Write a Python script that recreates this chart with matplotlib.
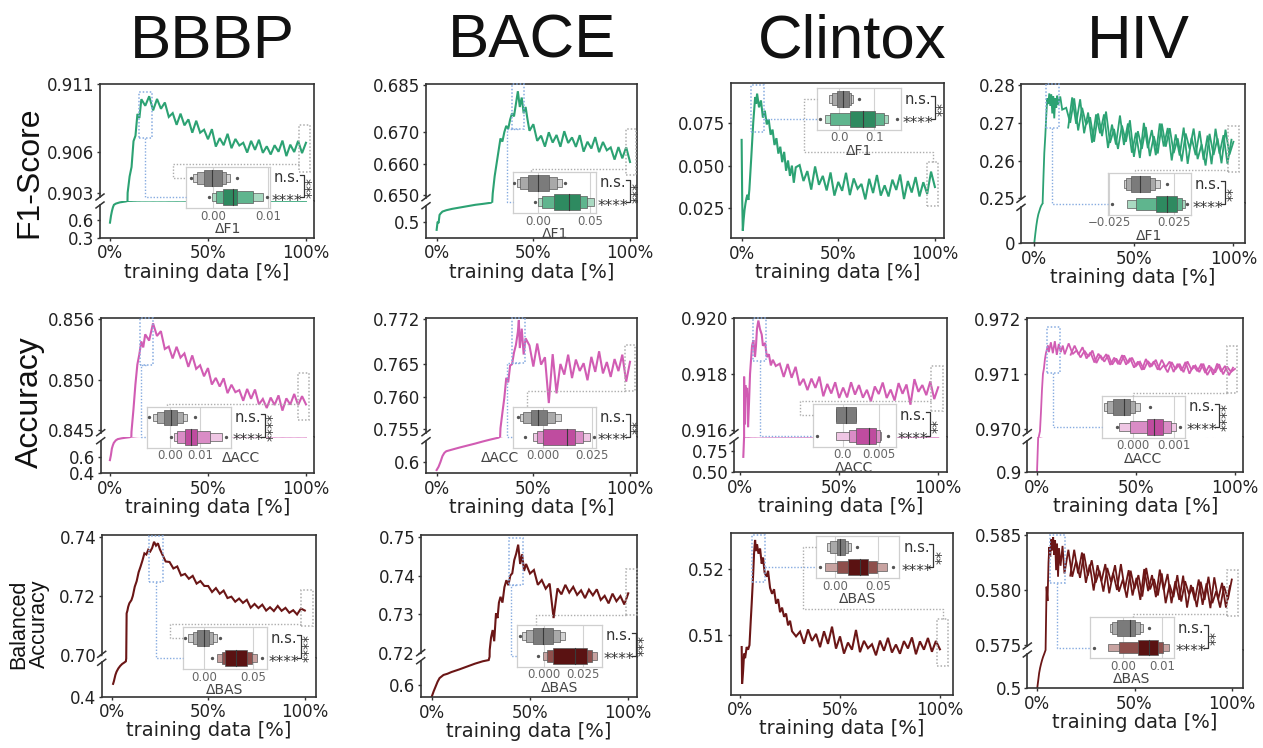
import matplotlib
matplotlib.use("Agg")
import matplotlib.pyplot as plt
from matplotlib.lines import Line2D
from matplotlib.patches import Rectangle

W, H = 1263, 748

# ---------------- values ----------------
datasets = ["BBBP", "BACE", "Clintox", "HIV"]
metrics = ["F1-Score", "Accuracy", "Balanced\nAccuracy"]
delta_names = ["\u0394F1", "\u0394ACC", "\u0394BAS"]
x_tick_labels = ["0%", "50%", "100%"]

# ---- F1 ----
bbbp_f1_x = [0, 0.5, 1, 1.5, 2, 3, 4, 5, 6, 7, 8, 9, 10, 11, 12, 13, 14, 15,
             16, 18, 20, 22, 24, 26, 28, 30, 32, 34, 36, 38, 40, 42, 44, 46, 48, 50, 52, 54,
             56, 58, 60, 62, 64, 66, 68, 70, 72, 74, 76, 78, 80, 82, 84, 86, 88, 90, 92, 94,
             96, 98, 100]
bbbp_f1_y = [0.55, 0.66, 0.74, 0.80, 0.84, 0.86, 0.87, 0.88, 0.885, 0.89, 0.895, 0.9030,
             0.9042, 0.9049, 0.9068, 0.9072, 0.9088, 0.9085,
             0.90988, 0.90940, 0.91010, 0.90906, 0.90990, 0.90918, 0.90964, 0.90858, 0.90886,
             0.90800, 0.90882, 0.90796, 0.90840, 0.90742, 0.90830, 0.90742, 0.90764, 0.90694,
             0.90768, 0.90640, 0.90702, 0.90650, 0.90734, 0.90628, 0.90696, 0.90648, 0.90668,
             0.90596, 0.90682, 0.90616, 0.90690, 0.90594, 0.90642, 0.90582, 0.90650, 0.90602,
             0.90684, 0.90570, 0.90654, 0.90600, 0.90682, 0.90592, 0.90668]

bace_f1_x = [0, 0.5, 1, 1.5, 2, 3, 5, 8, 12, 16, 20, 24, 28, 29, 30, 31, 32, 33, 34, 35,
             36, 37, 38, 39, 40, 41, 42, 43, 44, 45, 46, 47,
             48, 50, 52, 54, 56, 58, 60, 62, 64, 66, 68, 70, 72, 74, 76, 78, 80, 82, 84, 86,
             88, 90, 92, 94, 96, 98, 100]
bace_f1_y = [0.44, 0.50, 0.49, 0.55, 0.56, 0.575, 0.585, 0.595, 0.605, 0.615, 0.625, 0.632,
             0.640, 0.6505, 0.6560, 0.6600, 0.6640, 0.6680, 0.6670, 0.6700, 0.6720, 0.6710,
             0.6740, 0.6760, 0.6750, 0.6790, 0.6830, 0.6780, 0.6810, 0.6760, 0.6780, 0.6740,
             0.67044, 0.67252, 0.66724, 0.66888, 0.66540, 0.66996, 0.66668, 0.66910, 0.66536,
             0.67030, 0.66656, 0.66832, 0.66532, 0.66904, 0.66380, 0.66696, 0.66480, 0.66842,
             0.66364, 0.66688, 0.66424, 0.66514, 0.66128, 0.66526, 0.66168, 0.66520, 0.66052]

clintox_f1_x = [0, 0.3, 0.6, 1, 1.5, 2, 2.5, 3, 3.5, 4, 5, 6, 7, 7.5, 8, 9, 10, 11, 12, 13,
                14, 15, 16, 17, 18, 19, 20, 21, 22, 23, 24, 25, 26, 27, 28,
                30, 32, 34, 36, 38, 40, 42, 44, 46, 48, 50, 52, 54, 56, 58, 60, 62, 64, 66,
                68, 70, 72, 74, 76, 78, 80, 82, 84, 86, 88, 90, 92, 94, 96, 98, 100]
clintox_f1_y = [0.065, 0.030, 0.012, 0.018, 0.024, 0.028, 0.031, 0.033, 0.030, 0.036, 0.055,
                0.075, 0.090, 0.086, 0.092, 0.084, 0.088, 0.078, 0.082, 0.074, 0.077, 0.068,
                0.071, 0.062, 0.066, 0.057, 0.061, 0.052, 0.058, 0.047, 0.053, 0.044, 0.050,
                0.040, 0.049,
                0.0503, 0.0410, 0.0468, 0.0360, 0.0495, 0.0388, 0.0440, 0.0355, 0.0460, 0.0325,
                0.0405, 0.0353, 0.0458, 0.0328, 0.0425, 0.0365, 0.0393, 0.0303, 0.0423, 0.0340,
                0.0445, 0.0325, 0.0385, 0.0320, 0.0418, 0.0358, 0.0448, 0.0305, 0.0410, 0.0343,
                0.0433, 0.0320, 0.0403, 0.0335, 0.0465, 0.0375]

hiv_f1_x = [0, 0.5, 1, 1.5, 2, 2.5, 3, 3.5, 4, 4.2, 4.6, 5, 5.5, 6, 6.5, 7, 7.5, 8, 8.5, 9,
            9.5, 10, 10.5, 11, 11.5, 12, 13, 14,
            16, 18, 20, 22, 24, 26, 28, 30, 32, 34, 36, 38, 40, 42, 44, 46, 48, 50, 52, 54,
            56, 58, 60, 62, 64, 66, 68, 70, 72, 74, 76, 78, 80, 82, 84, 86, 88, 90, 92, 94,
            96, 98, 100]
hiv_f1_y = [0.005, 0.06, 0.11, 0.15, 0.18, 0.20, 0.22, 0.235, 0.245, 0.2495, 0.2560, 0.2620,
            0.2665, 0.2720, 0.2765, 0.2750, 0.2778, 0.2745, 0.2775, 0.2725, 0.2770, 0.2712,
            0.2765, 0.2740, 0.2772, 0.2748, 0.2770, 0.2735,
            0.2740, 0.2700, 0.2765, 0.2680, 0.2740, 0.2695, 0.2715, 0.2650, 0.2725, 0.2665,
            0.2730, 0.2647, 0.2684, 0.2631, 0.2693, 0.2650, 0.2707, 0.2610, 0.2678, 0.2631,
            0.2689, 0.2612, 0.2665, 0.2619, 0.2698, 0.2637, 0.2686, 0.2620, 0.2659, 0.2598,
            0.2672, 0.2631, 0.2685, 0.2604, 0.2643, 0.2587, 0.2671, 0.2615, 0.2659, 0.2593,
            0.2682, 0.2616, 0.2650]

# HIV runs are sampled twice as densely; these are the in-between readings
hiv_mid_x = [17, 19, 21, 23, 25, 27, 29, 31, 33, 35, 37, 39, 41, 43, 45, 47, 49, 51, 53, 55,
             57, 59, 61, 63, 65, 67, 69, 71, 73, 75, 77, 79, 81, 83, 85, 87, 89, 91, 93, 95,
             97, 99]
hiv_f1_mid_y = [0.26875, 0.27675, 0.26975, 0.27625, 0.26725, 0.27275, 0.26475, 0.27225, 0.26725,
                0.27225, 0.26335, 0.26955, 0.26425, 0.27195, 0.26415, 0.26985, 0.2621, 0.2674,
                0.2607, 0.27, 0.2633, 0.2681, 0.26145, 0.26985, 0.26375, 0.26865, 0.26005,
                0.26695, 0.26135, 0.26875, 0.25915, 0.26605, 0.26145, 0.26785, 0.26025, 0.26665,
                0.25905, 0.26845, 0.26185, 0.26675, 0.25915, 0.26555]

# ---- Accuracy ----
bbbp_acc_x = [0, 0.5, 1, 1.5, 2, 3, 4, 6, 8, 10, 11, 12, 13, 14, 15, 16, 17, 18,
              20, 22, 24, 26, 28, 30, 32, 34, 36, 38, 40, 42, 44, 46, 48, 50, 52, 54, 56, 58,
              60, 62, 64, 66, 68, 70, 72, 74, 76, 78, 80, 82, 84, 86, 88, 90, 92, 94, 96, 98,
              100]
bbbp_acc_y = [0.56, 0.62, 0.70, 0.74, 0.77, 0.80, 0.815, 0.825, 0.832, 0.838, 0.8448, 0.8470,
              0.8495, 0.8515, 0.8525, 0.8538, 0.8532, 0.8545,
              0.85388, 0.85560, 0.85434, 0.85482, 0.85304, 0.85328, 0.85210, 0.85326, 0.85218,
              0.85260, 0.85126, 0.85240, 0.85106, 0.85142, 0.85032, 0.85114, 0.84950, 0.85016,
              0.84930, 0.85012, 0.84864, 0.84948, 0.84874, 0.84894, 0.84788, 0.84906, 0.84808,
              0.84900, 0.84752, 0.84806, 0.84716, 0.84820, 0.84746, 0.84842, 0.84690, 0.84812,
              0.84750, 0.84856, 0.84746, 0.84834, 0.84752]

bace_acc_x = [0, 1, 2, 3, 4, 5, 8, 12, 16, 20, 24, 28, 32, 33, 34, 35, 36, 37, 38, 39, 40,
              41, 42, 42.5, 43, 44, 45, 46,
              48, 50, 52, 54, 56, 58, 60, 62, 64, 66, 68, 70, 72, 74, 76, 78, 80, 82, 84, 86,
              88, 90, 92, 94, 96, 98, 100]
bace_acc_y = [0.55, 0.57, 0.60, 0.635, 0.655, 0.665, 0.675, 0.688, 0.700, 0.712, 0.725, 0.737,
              0.748, 0.7551, 0.7575, 0.7598, 0.7629, 0.7622, 0.7648, 0.7650, 0.7668, 0.7680,
              0.7700, 0.7718, 0.7675, 0.7705, 0.7665, 0.7690,
              0.7679, 0.76464, 0.7682, 0.76494, 0.76608, 0.7590, 0.76656, 0.7605, 0.76504,
              0.7634, 0.76648, 0.76286, 0.76572, 0.76396, 0.76516, 0.76252, 0.76614, 0.76382,
              0.767, 0.76358, 0.76534, 0.76304, 0.7658, 0.76394, 0.76648, 0.7623, 0.76538]

clintox_acc_x = [1.6, 1.8, 2.0, 2.3, 2.6, 3.0, 3.5, 4.0, 4.5, 5.0, 5.5, 6.0, 6.7, 7.5, 8.0,
                 8.5, 9.2, 10.0, 10.9, 11.5, 12.6, 13.5, 14.5, 15.5, 16.5,
                 18, 20, 22, 24, 26, 28, 30, 32, 34, 36, 38, 40, 42, 44, 46, 48, 50, 52, 54,
                 56, 58, 60, 62, 64, 66, 68, 70, 72, 74, 76, 78, 80, 82, 84, 86, 88, 90, 92,
                 94, 96, 98, 100]
clintox_acc_y = [0.68, 0.80, 0.9179, 0.9162, 0.9176, 0.9172, 0.9175, 0.9161, 0.9170, 0.9180,
                 0.9185, 0.9190, 0.9192, 0.9186, 0.9190, 0.9196, 0.9199, 0.9196, 0.9194, 0.9190,
                 0.9191, 0.9186, 0.9187, 0.9183, 0.9185,
                 0.91828, 0.91836, 0.91789, 0.91835, 0.91786, 0.91825, 0.91759, 0.91782,
                 0.91742, 0.91783, 0.9175, 0.9179, 0.9172, 0.91764, 0.9173, 0.9177, 0.91714,
                 0.91751, 0.91716, 0.9177, 0.91726, 0.9176, 0.91715, 0.91743, 0.91702, 0.91755,
                 0.91728, 0.91769, 0.91714, 0.91744, 0.91705, 0.91767, 0.91729, 0.91762, 0.9169,
                 0.91781, 0.91736, 0.9176, 0.91724, 0.91773, 0.9171, 0.91752]

hiv_acc_x = [0, 0.6, 1.5, 2, 2.5, 3, 3.5, 4, 4.5, 5, 5.5, 6, 7, 8, 9, 10, 11, 12, 13, 14,
             16, 18, 20, 22, 24, 26, 28, 30, 32, 34, 36, 38, 40, 42, 44, 46, 48, 50, 52, 54,
             56, 58, 60, 62, 64, 66, 68, 70, 72, 74, 76, 78, 80, 82, 84, 86, 88, 90, 92, 94,
             96, 98, 100]
hiv_acc_y = [0.90, 0.9698, 0.96995, 0.9703, 0.9707, 0.9710, 0.9711, 0.97127, 0.97138, 0.97145,
             0.97152, 0.97140, 0.97158, 0.97138, 0.97160, 0.97135, 0.97155, 0.97140, 0.97152,
             0.97136,
             0.97156, 0.971364, 0.971432, 0.971302, 0.971425, 0.971317, 0.971429, 0.9712,
             0.971344, 0.971225, 0.971347, 0.971172, 0.971283, 0.971174, 0.97134, 0.971198,
             0.971298, 0.971145, 0.971223, 0.971081, 0.971236, 0.971148, 0.971259, 0.971073,
             0.971161, 0.97103, 0.971217, 0.971086, 0.971185, 0.971032, 0.97123, 0.971077,
             0.971154, 0.971034, 0.971188, 0.97098, 0.971112, 0.971025, 0.971179, 0.970993,
             0.971136, 0.971038, 0.971093]
hiv_acc_mid_y = [0.971352, 0.971519, 0.971356, 0.97149, 0.971283, 0.971395, 0.97121, 0.971371,
                 0.971257, 0.971363, 0.971166, 0.971299, 0.971179, 0.971345, 0.97117, 0.971292,
                 0.971117, 0.971228, 0.971075, 0.971274, 0.971126, 0.971231, 0.971078, 0.97126,
                 0.971123, 0.971228, 0.971036, 0.971185, 0.971059, 0.971219, 0.971005, 0.971154,
                 0.97105, 0.971188, 0.971018, 0.971156, 0.970986, 0.97119, 0.971042, 0.971147,
                 0.970977, 0.971115]

# ---- Balanced accuracy ----
bbbp_bas_x = [0.8, 1.2, 2, 2.6, 3.5, 4.5, 5.5, 6.5, 7.4, 7.6, 7.8, 8.2, 8.6, 9.2, 10.3, 11,
              12, 13, 14, 15, 16, 17, 18, 19, 20, 21, 22, 23, 24, 25, 26,
              28, 30, 32, 34, 36, 38, 40, 42, 44, 46, 48, 50, 52, 54, 56, 58, 60, 62, 64, 66,
              68, 70, 72, 74, 76, 78, 80, 82, 84, 86, 88, 90, 92, 94, 96, 98, 100]
bbbp_bas_y = [0.50, 0.52, 0.57, 0.595, 0.62, 0.64, 0.655, 0.665, 0.675, 0.700, 0.7141, 0.7150,
              0.7163, 0.7175, 0.7186, 0.7200, 0.7231, 0.7250, 0.7280, 0.7299, 0.7320, 0.7344,
              0.7340, 0.7356, 0.7350, 0.7362, 0.7383, 0.7370, 0.7378, 0.7358, 0.7344,
              0.73164, 0.73148, 0.72928, 0.72996, 0.7269, 0.72744, 0.7258, 0.72678, 0.72416,
              0.72502, 0.72336, 0.72336, 0.72132, 0.72264, 0.72072, 0.7218, 0.71928, 0.71974,
              0.71804, 0.7191, 0.71764, 0.71868, 0.716, 0.71728, 0.7159, 0.71704, 0.71504,
              0.71616, 0.71488, 0.7166, 0.71496, 0.71596, 0.7143, 0.71516, 0.71372, 0.71572,
              0.71506]

bace_bas_x = [0, 1, 2, 3, 4, 6, 8, 10, 14, 18, 22, 26, 29, 29.5, 30.2, 31, 31.8, 32.7, 33.5,
              34.2, 35, 36, 37, 38, 39, 40, 41, 42, 43, 44, 45, 46, 47, 48,
              50, 52, 54, 56, 58, 60, 62, 64, 66, 68, 70, 72, 74, 76, 78, 80, 82, 84, 86, 88,
              90, 92, 94, 96, 98, 100]
bace_bas_y = [0.552, 0.575, 0.595, 0.615, 0.63, 0.643, 0.648, 0.655, 0.666, 0.678, 0.690,
              0.700, 0.705, 0.7207, 0.7240, 0.7259, 0.7230, 0.7302, 0.7290, 0.7330, 0.7345,
              0.7330, 0.7370, 0.7388, 0.7375, 0.7400, 0.7406, 0.7440, 0.7457, 0.7480, 0.7430,
              0.7455, 0.7412, 0.7430,
              0.74052, 0.74144, 0.7376, 0.73884, 0.7366, 0.73792, 0.7290, 0.73668, 0.73514,
              0.7376, 0.73558, 0.73708, 0.735, 0.73618, 0.73416, 0.73636, 0.73488, 0.73644,
              0.73368, 0.73476, 0.7328, 0.73532, 0.73336, 0.7347, 0.73252, 0.7354]

clintox_bas_x = [0.8, 1.0, 1.5, 2, 2.5, 3.3, 4, 4.7, 5.3, 5.8, 6.5, 7, 7.5, 8, 8.5, 9.2, 10,
                 10.8, 11.5, 12.3, 13.3, 14, 15, 16, 17, 18, 19, 20, 21, 22, 23, 24, 25, 26,
                 28, 30, 32, 34, 36, 38, 40, 42, 44, 46, 48, 50, 52, 54, 56, 58, 60, 62, 64,
                 66, 68, 70, 72, 74, 76, 78, 80, 82, 84, 86, 88, 90, 92, 94, 96, 98, 100]
clintox_bas_y = [0.5082, 0.5026, 0.5045, 0.5072, 0.5065, 0.5082, 0.5078, 0.5085, 0.5120, 0.5148,
                 0.5190, 0.5225, 0.5245, 0.5228, 0.5238, 0.5224, 0.5232, 0.5209, 0.5218, 0.5195,
                 0.5189, 0.5198, 0.5172, 0.5163, 0.5170, 0.5148, 0.5155, 0.5135, 0.5142, 0.5128,
                 0.5133, 0.5115, 0.5122, 0.5106,
                 0.50982, 0.51054, 0.5087, 0.51088, 0.50914, 0.5102, 0.50818, 0.5106, 0.50868,
                 0.5113, 0.50796, 0.50982, 0.5072, 0.50888, 0.5078, 0.5108, 0.50742, 0.50914,
                 0.50802, 0.50862, 0.50694, 0.50918, 0.50764, 0.5096, 0.50736, 0.50858, 0.50718,
                 0.5091, 0.50798, 0.50966, 0.5071, 0.50906, 0.5078, 0.50958, 0.50748, 0.50912,
                 0.50786]

hiv_bas_x = [0, 0.5, 1, 1.5, 2, 2.5, 3, 3.5, 4, 4.3, 4.8, 5.3, 5.8, 6.2, 6.7, 7.2, 7.7, 8.2,
             8.7, 9.2, 9.7, 10.2, 10.7, 11.2, 12, 13, 14,
             16, 18, 20, 22, 24, 26, 28, 30, 32, 34, 36, 38, 40, 42, 44, 46, 48, 50, 52, 54,
             56, 58, 60, 62, 64, 66, 68, 70, 72, 74, 76, 78, 80, 82, 84, 86, 88, 90, 92, 94,
             96, 98, 100]
hiv_bas_y = [0.50, 0.515, 0.53, 0.54, 0.548, 0.555, 0.561, 0.566, 0.5713, 0.5746, 0.5803,
             0.5790, 0.5825, 0.5839, 0.5830, 0.5846, 0.5836, 0.5848, 0.5832, 0.5845, 0.5818,
             0.5842, 0.5812, 0.5838, 0.5822, 0.5840, 0.5815,
             0.58365, 0.5812, 0.58265, 0.5811, 0.5833, 0.5813, 0.5827, 0.58065, 0.58175,
             0.57985, 0.582, 0.5807, 0.58225, 0.57985, 0.58095, 0.5793, 0.58175, 0.5801,
             0.58135, 0.5794, 0.582, 0.58005, 0.581, 0.5795, 0.5815, 0.5788, 0.5805, 0.57935,
             0.58135, 0.57895, 0.5808, 0.5796, 0.58025, 0.57845, 0.58075, 0.5791, 0.5812,
             0.5788, 0.5799, 0.5784, 0.58035, 0.57915, 0.58095]
hiv_bas_mid_y = [0.5813, 0.58365, 0.5815, 0.5834, 0.58065, 0.5823, 0.57995, 0.58225, 0.5808,
                 0.58235, 0.5797, 0.58155, 0.58, 0.58235, 0.58005, 0.5818, 0.5795, 0.5811,
                 0.5791, 0.5819, 0.5799, 0.58135, 0.57935, 0.58185, 0.58, 0.58145, 0.5788,
                 0.5808, 0.5791, 0.5813, 0.5784, 0.58045, 0.57905, 0.58095, 0.57865, 0.5806,
                 0.57835, 0.58115, 0.57915, 0.58065, 0.5784, 0.58035]

curves = [(bbbp_f1_x, bbbp_f1_y), (bace_f1_x, bace_f1_y), (clintox_f1_x, clintox_f1_y),
          (hiv_f1_x, hiv_f1_y), (bbbp_acc_x, bbbp_acc_y), (bace_acc_x, bace_acc_y),
          (clintox_acc_x, clintox_acc_y), (hiv_acc_x, hiv_acc_y), (bbbp_bas_x, bbbp_bas_y),
          (bace_bas_x, bace_bas_y), (clintox_bas_x, clintox_bas_y), (hiv_bas_x, hiv_bas_y)]
# second trace of the densely sampled HIV runs
extra_curves = {3: (hiv_mid_x, hiv_f1_mid_y), 7: (hiv_mid_x, hiv_acc_mid_y),
                11: (hiv_mid_x, hiv_bas_mid_y)}

# y tick labels: (upper part, lower part of the broken axis)
y_tick_labels = [
    (["0.903", "0.906", "0.911"], ["0.3", "0.6"]),
    (["0.650", "0.660", "0.670", "0.685"], ["0.5"]),
    (["0.025", "0.050", "0.075"], None),
    (["0.25", "0.26", "0.27", "0.28"], ["0"]),
    (["0.845", "0.850", "0.856"], ["0.4", "0.6"]),
    (["0.755", "0.760", "0.765", "0.772"], ["0.6"]),
    (["0.916", "0.918", "0.920"], ["0.50", "0.75"]),
    (["0.970", "0.971", "0.972"], ["0.9"]),
    (["0.70", "0.72", "0.74"], ["0.4"]),
    (["0.72", "0.73", "0.74", "0.75"], ["0.6"]),
    (["0.51", "0.52"], None),
    (["0.575", "0.580", "0.585"], ["0.5"]),
]

# inset letter values [lo3, lo2, lo1, median, hi1, hi2, hi3] for the gray (reference) row
ref_letter_values = [
    [-0.0037, -0.0029, -0.0017, -0.0002, 0.0015, 0.0024, 0.0030],
    [-0.021, -0.018, -0.0098, 0.0, 0.0098, 0.018, 0.023],
    [-0.03, -0.021, -0.007, 0.012, 0.027, 0.033, 0.041],
    [-0.0136, -0.0123, -0.0085, -0.001, 0.0067, 0.0105, 0.0137],
    [-0.0058, -0.0044, -0.0022, 0.0002, 0.0022, 0.0044, 0.0056],
    [-0.0116, -0.0099, -0.0061, -0.0022, 0.002, 0.0063, 0.0092],
    [-0.0009, -0.0009, -0.0009, 0.00045, 0.0018, 0.0018, 0.0018],
    [-0.00069, -0.00061, -0.00047, -0.00021, -0.00007, 0.00006, 0.00019],
    [-0.016, -0.0115, -0.0074, 0.0, 0.0054, 0.0095, 0.0128],
    [-0.0142, -0.0114, -0.0068, -0.0004, 0.0059, 0.0102, 0.0133],
    [-0.0097, -0.0058, 0.002, 0.0058, 0.0116, 0.0155, 0.0182],
    [-0.0035, -0.0029, -0.0016, 0.0018, 0.0031, 0.0042, 0.005],
]
ref_outliers = [[-0.0041, 0.0044], [-0.0235, 0.026], [0.058], [0.0194], [-0.0071, 0.0083],
                [-0.0128], [], [0.00042], [-0.0189, 0.016], [-0.0155], [0.026], [0.0067]]
model_letter_values = [
    [-0.0003, 0.0005, 0.0017, 0.0036, 0.0044, 0.0073, 0.0091],
    [0.0, 0.0033, 0.0147, 0.0294, 0.0409, 0.0474, 0.054],
    [-0.04, -0.026, 0.031, 0.068, 0.103, 0.127, 0.141],
    [-0.011, -0.0047, 0.0113, 0.0194, 0.027, 0.0308, 0.0333],
    [0.0013, 0.0022, 0.005, 0.0069, 0.0089, 0.0133, 0.0172],
    [-0.0048, -0.003, 0.0, 0.0122, 0.0165, 0.0207, 0.0241],
    [-0.0009, 0.0009, 0.0018, 0.0036, 0.0045, 0.0051, 0.0053],
    [-0.00032, -0.00007, 0.00034, 0.00052, 0.00074, 0.00092, 0.00105],
    [0.0128, 0.0179, 0.0213, 0.0324, 0.0433, 0.0483, 0.0534],
    [-0.0008, 0.0017, 0.0059, 0.0197, 0.0271, 0.0303, 0.0335],
    [-0.0116, 0.002, 0.0155, 0.029, 0.0388, 0.0492, 0.0601],
    [-0.0038, -0.0012, 0.0039, 0.0065, 0.0088, 0.0103, 0.0116],
]
model_outliers = [[-0.0007, 0.0097], [-0.003], [-0.054, 0.165], [-0.0225, 0.035],
                  [0.0002, 0.0187], [-0.009, 0.0263], [-0.0035, 0.0062], [-0.00038, 0.00115],
                  [0.0078, 0.0585], [-0.004], [-0.0174, 0.068], [-0.0076]]
inset_tick_labels = [["0.00", "0.01"], ["0.00", "0.05"], ["0.0", "0.1"], ["\u22120.025", "0.025"],
                     ["0.00", "0.01"], ["0.000", "0.025"], ["0.0", "0.005"], ["0.000", "0.001"],
                     ["0.00", "0.05"], ["0.000", "0.025"], ["0.00", "0.05"], ["0.00", "0.01"]]
bracket_stars = ["***", "***", "**", "**", "****", "**", "**", "****", "****", "***", "**", "**"]

# highlighted regions (x %, x %, y lo, y hi): around the peak and at 100 %
peak_boxes = [(14.9, 21.3, 0.9070, 0.9104), (38.8, 45.2, 0.6710, 0.6853), (4.8, 11.5, 0.0698, 0.0969),
              (6.0, 12.2, 0.2686, 0.2803), (15.3, 21.8, 0.8514, 0.8561), (39.1, 45.7, 0.7652, 0.7721),
              (6.7, 13.1, 0.91846, 0.9200), (4.9, 11.6, 0.97101, 0.97186), (19.5, 26.4, 0.7248, 0.7402),
              (39.3, 46.2, 0.7375, 0.7496), (5.8, 12.5, 0.5181, 0.5252), (6.5, 14.3, 0.5806, 0.5850)]
end_boxes = [(96.4, 102, 0.9045, 0.9080), (97.9, 103.1, 0.6563, 0.6709), (96, 101.7, 0.0266, 0.0523),
             (97.1, 102.7, 0.2571, 0.2692), (96.1, 101.7, 0.8460, 0.8506), (97.4, 102.6, 0.7609, 0.7680),
             (96.6, 102.2, 0.91666, 0.91828), (95.8, 101.2, 0.97066, 0.97151), (98, 104, 0.7098, 0.7220),
             (98.8, 104.3, 0.7298, 0.7418), (98.4, 104.2, 0.5053, 0.5124), (97.4, 103.4, 0.5776, 0.5818)]

# ---------------- layout (pixels, origin top-left) ----------------
FRAMES = [(100, 314, 84, 238, 201), (426, 637, 84, 238, 201.7), (731, 944, 83.3, 238.3, None),
          (1021, 1245, 84, 243.3, 203.3), (100.7, 314, 318.3, 473.3, 436.7),
          (426, 637, 318.3, 473.3, 436.7), (734, 947.3, 317.7, 472.3, 436.7),
          (1027.3, 1243.3, 318.3, 472.3, 436.7), (101.7, 316, 535, 696.7, 658.3),
          (420.7, 636.7, 535, 697.3, 656.7), (730.7, 953.3, 532.7, 695, None),
          (1027.3, 1242.7, 532.7, 688.3, 650)]
XLIMS = [(-5.1, 104.1), (-5.5, 103.6), (-5.5, 104.7), (-6.7, 105.8), (-4.7, 104.1), (-5.5, 103.6),
         (-3.1, 104.6), (-4.9, 104.2), (-5.1, 105.8), (-5.6, 104.3), (-4.7, 106.7), (-5.1, 105.6)]
UP_YLIMS = [(0.9024, 0.911), (0.6479, 0.6853), (0.0076, 0.098), (0.2487, 0.2803), (0.8443, 0.8561),
            (0.7538, 0.7721), (0.91576, 0.92), (0.96985, 0.97202), (0.6989, 0.7406), (0.719, 0.7505),
            (0.5009, 0.5256), (0.57455, 0.5852)]
LO_YLIMS = [(0.3, 0.9024), (0.38, 0.6479), None, (0, 0.2487), (0.4, 0.8443), (0.53, 0.7538),
            (0.5, 0.91576), (0.9, 0.96985), (0.4, 0.6989), (0.55, 0.719), None, (0.5, 0.57455)]
INSETS = [(185.7, 270, 166.7, 208.3), (513.3, 596, 171.7, 213.3), (816.7, 900.7, 88.3, 130),
          (1108.3, 1190.7, 173.3, 215), (146.7, 230.7, 406.7, 447.7), (513.3, 596, 406.7, 447.7),
          (812.7, 896, 404.3, 446.7), (1101.7, 1185, 395.7, 437.7), (183.3, 266.7, 627.3, 669.3),
          (517.3, 601.7, 625, 666.7), (816, 899.3, 536, 578.3), (1090, 1174, 617.3, 658.3)]
INSET_XLIMS = [(-0.005, 0.0103), (-0.0245, 0.056), (-0.064, 0.176), (-0.0255, 0.0375),
               (-0.0078, 0.0202), (-0.015, 0.0272), (-0.0041, 0.0073), (-0.00075, 0.00127),
               (-0.021, 0.0635), (-0.017, 0.0367), (-0.022, 0.075), (-0.0085, 0.013)]
LABEL_MODE = ["below"] * 4 + ["right", "left", "below", "below"] + ["below"] * 4
END_LINK = [None, 0.22, None, 0.33, 0.24, 0.17, None, 0.37, None, 0.22, None, 0.51]
LINE_WIDTHS = [1.5, 1.5, 1.5, 1.3]

LINE_COLORS = ["#2ca273", "#d15cb3", "#6b1616"]
SHADES = [["#2e8a60", "#5fb58e", "#a9d9c1"],
          ["#bf4c9f", "#da8cc6", "#efc6e4"],
          ["#5a1212", "#8e4f4c", "#c8a3a1"]]
GRAY_SHADES = ["#7b7b7b", "#a9a9a9", "#d3d3d3"]
SPINE = "#333333"
BLUE = "#86abe0"
LGRAY = "#adadad"
TITLE_FONT = ["Liberation Sans", "DejaVu Sans"]

fig = plt.figure(figsize=(W / 100, H / 100), dpi=100)
to_fig = fig.transFigure.inverted()


def rect(x0, x1, y0, y1):
    return [x0 / W, 1 - y1 / H, (x1 - x0) / W, (y1 - y0) / H]


def fxy(ax, x, y, axes_coords=False):
    t = ax.transAxes if axes_coords else ax.transData
    return to_fig.transform(t.transform((x, y)))


def fig_line(pts, **kw):
    fig.add_artist(Line2D([p[0] for p in pts], [p[1] for p in pts],
                          transform=fig.transFigure, **kw))


def vals(labels):
    return [float(s.replace("\u2212", "-").rstrip("%")) for s in labels]


def style(ax):
    ax.tick_params(axis="both", labelsize=12, length=2.5, width=1, pad=1.5,
                   color=SPINE, labelcolor="#222222")
    for s in ax.spines.values():
        s.set_color(SPINE)
        s.set_linewidth(1.2)


def boxen(ax, row, lv, out, shades):
    heights = [0.8, 0.6, 0.4]
    for k in (2, 1, 0):
        lo, hi = lv[2 - k], lv[4 + k]
        ax.add_patch(Rectangle((lo, row - heights[k] / 2), hi - lo, heights[k],
                               facecolor=shades[k], edgecolor="#5a5a5a", lw=0.5, zorder=5 - k))
    ax.plot([lv[3], lv[3]], [row - 0.4, row + 0.4], color="#3a3a3a", lw=0.8, zorder=6)
    ax.plot(out, [row] * len(out), ls="none", marker="o", ms=1.4, color="#555555", zorder=6)


dots = (0, (1, 1.3))

for i in range(12):
    x0, x1, y0, y1, brk = FRAMES[i]
    xs, ys = curves[i]
    up_lab, lo_lab = y_tick_labels[i]
    col = LINE_COLORS[i // 4]
    if brk is None:
        up = fig.add_axes(rect(x0, x1, y0, y1))
        bottom_ax = up
        axes = [up]
    else:
        up = fig.add_axes(rect(x0, x1, y0, brk))
        lo = fig.add_axes(rect(x0, x1, brk, y1))
        bottom_ax = lo
        axes = [up, lo]
    for ax in axes:
        ax.plot(xs, ys, color=col, lw=LINE_WIDTHS[i % 4], solid_joinstyle="miter")
        if i in extra_curves:
            ax.plot(*extra_curves[i], color=col, lw=LINE_WIDTHS[i % 4],
                    solid_joinstyle="miter")
        ax.set_xlim(XLIMS[i])
        style(ax)
    up.set_ylim(UP_YLIMS[i])
    up.set_yticks(vals(up_lab))
    up.set_yticklabels(up_lab)
    bottom_ax.set_xticks(vals(x_tick_labels))
    bottom_ax.set_xticklabels(x_tick_labels)
    bottom_ax.tick_params(axis="x", pad=2)
    if brk is not None:
        lo.set_ylim(LO_YLIMS[i])
        lo.set_yticks(vals(lo_lab))
        lo.set_yticklabels(lo_lab)
        up.set_xticks([])
        up.spines["bottom"].set_visible(False)
        lo.spines["top"].set_visible(False)
        g = 4
        a, b = UP_YLIMS[i]
        up.spines["left"].set_bounds(a + (b - a) * g / (brk - y0), b)
        a, b = LO_YLIMS[i]
        lo.spines["left"].set_bounds(a, b - (b - a) * g / (y1 - brk))
        for yb in (brk - g, brk + g):
            fig_line([((x0 - 4) / W, 1 - (yb + 3) / H), ((x0 + 4) / W, 1 - (yb - 3) / H)],
                     color=SPINE, lw=1.1)
    fig.text((x0 + x1) / 2 / W, 1 - (y1 + 34) / H, "training data [%]", ha="center",
             va="center", fontsize=14, color="#222222")

    # ---- inset with letter-value plots ----
    ix0p, ix1p, iy0p, iy1p = INSETS[i]
    ins = fig.add_axes(rect(ix0p, ix1p, iy0p, iy1p))
    ins.set_xlim(INSET_XLIMS[i])
    ins.set_ylim(1.55, -0.55)
    tl = inset_tick_labels[i]
    ins.set_xticks(vals(tl))
    ins.set_xticklabels(tl)
    ins.set_yticks([])
    ins.tick_params(axis="x", length=0, pad=1, labelsize=8.5, labelcolor="#666666")
    for s in ins.spines.values():
        s.set_color("#cfcfcf")
        s.set_linewidth(0.9)
    for t in vals(tl):
        ins.axvline(t, color="#d2d2d2", lw=0.8, zorder=1)
    boxen(ins, 0, ref_letter_values[i], ref_outliers[i], GRAY_SHADES)
    boxen(ins, 1, model_letter_values[i], model_outliers[i], SHADES[i // 4])

    ix0, iy0 = fxy(ins, 0, 0, True)
    ix1, iy1 = fxy(ins, 1, 1, True)
    r0 = fxy(ins, INSET_XLIMS[i][0], 0)[1]
    r1 = fxy(ins, INSET_XLIMS[i][0], 1)[1]

    mode = LABEL_MODE[i]
    dname = delta_names[i // 4]
    if mode == "below":
        lx, ly = (ix0 + ix1) / 2, iy0 - 21 / H
    elif mode == "right":
        lx, ly = ix1 + 10 / W, iy0 - 10 / H
    else:
        lx, ly = ix0 - 13 / W, iy0 - 10 / H
    fig.text(lx, ly, dname, ha="center", va="center", fontsize=10, color="#444444")

    # significance marks
    fig.text(ix1 + 4 / W, r0, "n.s.", ha="left", va="center", fontsize=10.5, color="#333333")
    fig.text(ix1 + 2 / W, r1 - 4 / H, "****", ha="left", va="center", fontsize=11,
             color="#333333")
    xb = ix1 + 34 / W
    fig_line([(xb - 4 / W, r0 + 3 / H), (xb, r0 + 3 / H), (xb, r1), (xb - 4 / W, r1)],
             color="#333333", lw=0.9)
    fig.text(xb + 1 / W, (r0 + r1) / 2, bracket_stars[i], rotation=90, ha="left",
             va="center", fontsize=10, color="#333333")

    # highlighted regions and their links to the inset
    for bx, c in ((peak_boxes[i], BLUE), (end_boxes[i], LGRAY)):
        up.add_patch(Rectangle((bx[0], bx[2]), bx[1] - bx[0], bx[3] - bx[2], fill=False,
                               edgecolor=c, lw=1.1, ls=dots, clip_on=False, zorder=4))

    pb = peak_boxes[i]
    bx0, by0 = fxy(up, pb[0], pb[2])
    bx1, by1 = fxy(up, pb[1], pb[3])
    if by0 <= r1 <= by1:
        path = [(bx1, r1), (ix0, r1)]
    else:
        bcx = (bx0 + bx1) / 2
        xv = min(bcx, ix0 - 6 / W)
        path = [(bcx, by0), (xv, by0), (xv, r1), (ix0, r1)]
    fig_line(path, color=BLUE, lw=1.0, ls=dots)

    eb = end_boxes[i]
    ex0, ey0 = fxy(up, eb[0], eb[2])
    ex1, ey1 = fxy(up, eb[1], eb[3])
    xs_side = ix0 - 13 / W
    if iy0 > ey1:
        yh = ey1 + 10 / H
        ecx = (ex0 + ex1) / 2
        path = [(ecx, ey1), (ecx, yh), (xs_side, yh), (xs_side, r0), (ix0, r0)]
    elif END_LINK[i] is not None:
        yh = max(ey0, iy1 + 3 / H)
        xt = ix0 + END_LINK[i] * (ix1 - ix0)
        path = [(ex0, yh), (xt, yh), (xt, iy1)]
    else:
        yh = max(ey0, iy1 + 3 / H)
        path = [(ex0, yh), (xs_side, yh), (xs_side, r0), (ix0, r0)]
    fig_line(path, color=LGRAY, lw=1.0, ls=dots)

# ---- column titles and row labels ----
for name, cx in zip(datasets, [212, 532, 852, 1138]):
    fig.text(cx / W, 1 - 42 / H, name, ha="center", va="center", fontsize=44.5,
             family=TITLE_FONT, color="#111111")
for label, (cx, cy), fs in zip(metrics, [(29, 172), (30, 402), (29, 624)], [23, 23, 15.5]):
    fig.text(cx / W, 1 - cy / H, label, ha="center", va="center", rotation=90, fontsize=fs,
             family=TITLE_FONT, color="#111111", linespacing=0.95)

fig.savefig("out.png", dpi=100)
